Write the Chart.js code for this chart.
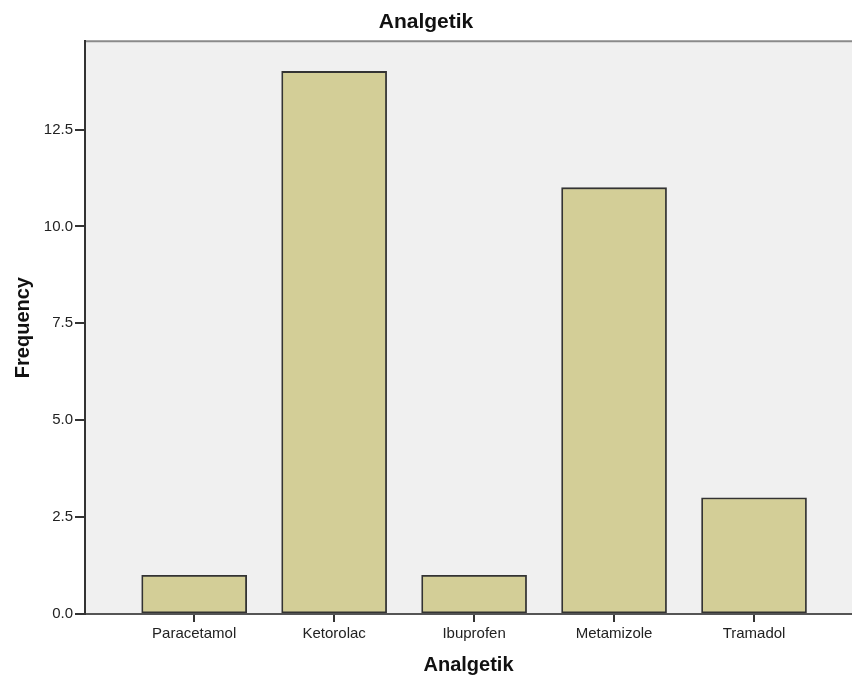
<!DOCTYPE html>
<html>
<head>
<meta charset="utf-8">
<script src="https://cdn.jsdelivr.net/npm/chart.js@4/dist/chart.umd.min.js"></script>
<style>
  html, body { margin: 0; padding: 0; background: #fff; }
  #wrap { width: 852px; height: 682px; }
</style>
</head>
<body>
<div id="wrap"><canvas id="chart" width="852" height="682"></canvas></div>
<script>
// データ
var categories = ['Paracetamol', 'Ketorolac', 'Ibuprofen', 'Metamizole', 'Tramadol'];
var frequencies = [1, 14, 1, 11, 3];
var yTicks = [0, 2.5, 5, 7.5, 10, 12.5];

var FONT = 'Arial, "Liberation Sans", sans-serif';

/** プロット背景と上枠 */
var plotBg = {
  id: 'plotBg',
  beforeDraw: function(chart) {
    var a = chart.chartArea, ctx = chart.ctx;
    ctx.save();
    ctx.fillStyle = '#f0f0f0';
    ctx.fillRect(a.left, a.top, a.right - a.left, a.bottom - a.top);
    ctx.strokeStyle = '#8a8a8a';
    ctx.lineWidth = 2;
    ctx.beginPath();
    ctx.moveTo(a.left, a.top);
    ctx.lineTo(a.right, a.top);
    ctx.stroke();
    ctx.restore();
  }
};

var points = categories.map(function(c, i) { return { x: i, y: frequencies[i] }; });

new Chart(document.getElementById('chart'), {
  type: 'bar',
  data: {
    datasets: [{
      label: 'Frequency',
      data: points,
      backgroundColor: '#d3ce97',
      borderColor: '#333333',
      borderWidth: 1.8,
      borderSkipped: false,
      barThickness: 105
    }]
  },
  options: {
    responsive: false,
    animation: false,
    layout: { padding: 0 },
    plugins: {
      legend: { display: false },
      tooltip: { enabled: false },
      title: {
        display: true,
        text: 'Analgetik',
        color: '#111',
        font: { family: FONT, size: 21, weight: 'bold' },
        padding: { top: 10, bottom: 6 }
      }
    },
    scales: {
      x: {
        type: 'linear',
        offset: false,
        min: -0.78,
        max: 4.7,
        afterFit: function(s) { s.height = 68; },
        afterBuildTicks: function(s) {
          s.ticks = categories.map(function(c, i) { return { value: i }; });
        },
        ticks: {
          stepSize: 1,
          autoSkip: false,
          maxRotation: 0,
          padding: 3,
          color: '#222',
          font: { family: FONT, size: 15 },
          callback: function(v) { return categories[v] || ''; }
        },
        grid: { offset: false, drawOnChartArea: false, drawTicks: true, tickLength: 8, color: '#333', lineWidth: 2 },
        border: { display: true, color: '#555', width: 2 },
        title: {
          display: true,
          text: 'Analgetik',
          color: '#111',
          font: { family: FONT, size: 20, weight: 'bold' },
          padding: { top: 0, bottom: 5 }
        }
      },
      y: {
        min: 0,
        max: 14.78,
        afterFit: function(s) { s.width = 85; },
        afterBuildTicks: function(s) {
          s.ticks = yTicks.map(function(v) { return { value: v }; });
        },
        ticks: {
          stepSize: 2.5,
          padding: 2,
          color: '#222',
          font: { family: FONT, size: 15 },
          callback: function(v) { return Number(v).toFixed(1); }
        },
        grid: { drawOnChartArea: false, drawTicks: true, tickLength: 10, color: '#333', lineWidth: 2 },
        border: { display: true, color: '#333', width: 2 },
        title: {
          display: true,
          text: 'Frequency',
          color: '#111',
          font: { family: FONT, size: 20, weight: 'bold' },
          padding: { top: 11, bottom: 0 }
        }
      }
    }
  },
  plugins: [plotBg]
});
</script>
</body>
</html>
